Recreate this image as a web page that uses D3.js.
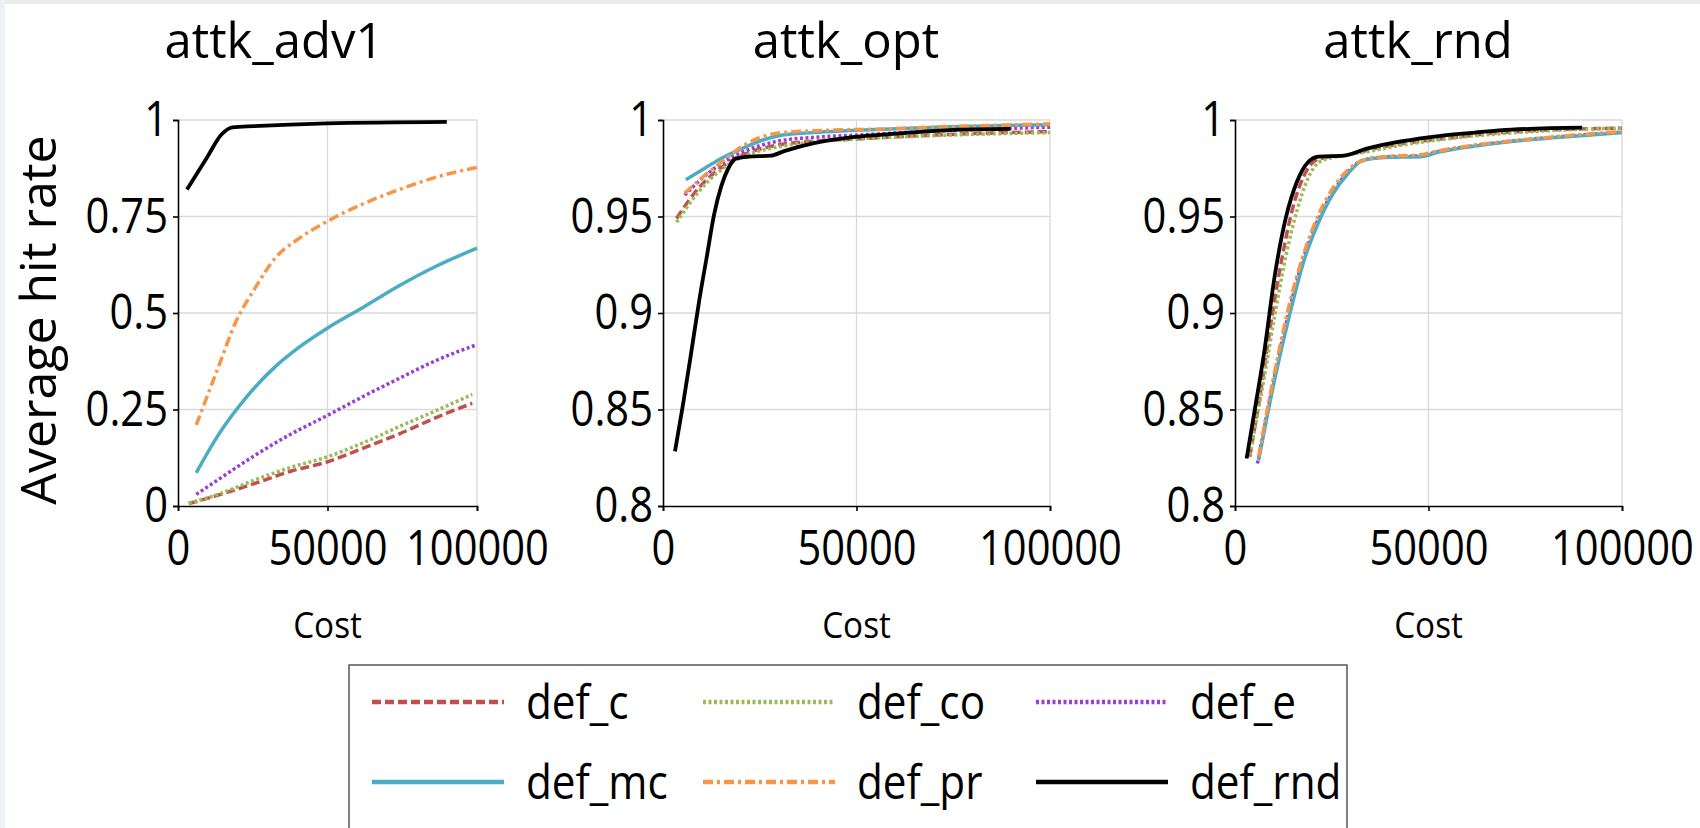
<!DOCTYPE html>
<html>
<head>
<meta charset="utf-8">
<script src="https://cdn.jsdelivr.net/npm/d3@7"></script>
<style>
  body { margin: 0; background: #fff; }
  text { font-family: "Open Sans", "Noto Sans", sans-serif; fill: #000; }
</style>
</head>
<body>
<div id="chart"></div>
<script>
// ticks
const costTicks = [0, 50000, 100000];
const adv1Ticks = [0, 0.25, 0.5, 0.75, 1];
const rateTicks = [0.8, 0.85, 0.9, 0.95, 1];

const panelTitles = ['attk_adv1', 'attk_opt', 'attk_rnd'];
const seriesNames = ['def_c', 'def_co', 'def_e', 'def_mc', 'def_pr', 'def_rnd'];

// attk_adv1  [cost, hit rate]
const adv1_c   = [[3600,0.006],[13400,0.028],[25500,0.058],[37700,0.09],[49800,0.114],[62000,0.15],[74100,0.187],[86300,0.229],[98400,0.266]];
const adv1_co  = [[3600,0.007],[13400,0.03],[25500,0.067],[37700,0.1],[49800,0.127],[62000,0.164],[74100,0.206],[86300,0.247],[98400,0.289]];
const adv1_e   = [[6100,0.03],[13400,0.068],[25500,0.13],[37700,0.186],[49800,0.234],[62000,0.284],[74100,0.331],[86300,0.377],[100000,0.418]];
const adv1_mc  = [[6100,0.086],[13400,0.183],[23100,0.284],[32800,0.363],[40100,0.409],[49800,0.46],[62000,0.515],[74100,0.571],[86300,0.621],[100000,0.668]];
const adv1_pr  = [[6100,0.21],[13400,0.358],[19400,0.478],[25500,0.561],[32800,0.645],[40100,0.691],[49800,0.737],[62000,0.783],[74100,0.82],[86300,0.852],[100000,0.877]];
const adv1_rnd = [[3000,0.82],[9700,0.903],[14600,0.963],[18200,0.981],[25500,0.984],[49800,0.991],[89900,0.995]];

// attk_opt
const opt_c   = [[3500,0.949],[8900,0.964],[15500,0.976],[20200,0.9815],[29600,0.987],[39000,0.989],[48400,0.990],[67300,0.992],[100000,0.994]];
const opt_co  = [[3500,0.947],[8900,0.962],[15500,0.975],[20200,0.9806],[29600,0.986],[39000,0.9886],[48400,0.99],[67300,0.9917],[100000,0.9935]];
const opt_e   = [[5600,0.961],[10800,0.971],[15500,0.978],[20200,0.983],[29600,0.989],[39000,0.991],[48400,0.992],[67300,0.994],[100000,0.9963]];
const opt_mc  = [[5900,0.969],[10800,0.975],[15500,0.9806],[20200,0.985],[24900,0.989],[29600,0.9917],[39000,0.9935],[48400,0.9945],[67300,0.996],[100000,0.9976]];
const opt_pr  = [[5600,0.962],[10800,0.9714],[15500,0.9788],[20200,0.986],[24900,0.9908],[29600,0.9932],[39000,0.9944],[57900,0.9954],[76700,0.9967],[100000,0.998]];
const opt_rnd = [[3100,0.8283],[5200,0.853],[7100,0.877],[9400,0.907],[11300,0.929],[13200,0.951],[15100,0.966],[16900,0.975],[18800,0.980],[22100,0.981],[27800,0.9815],[31500,0.984],[39000,0.988],[48400,0.991],[57900,0.9926],[67300,0.994],[76700,0.995],[89800,0.9954]];

// attk_rnd
const rnd_c   = [[3800,0.8255],[6600,0.859],[9400,0.896],[12200,0.929],[15000,0.955],[17800,0.971],[20700,0.979],[23500,0.9806],[29100,0.982],[38500,0.9862],[47900,0.989],[57300,0.9911],[66700,0.9932],[76100,0.9944],[100000,0.9958]];
const rnd_co  = [[3800,0.8264],[7500,0.866],[10300,0.899],[13100,0.929],[16000,0.953],[18800,0.9695],[21600,0.978],[25400,0.9806],[33800,0.9834],[43200,0.987],[57300,0.9908],[76100,0.9939],[100000,0.9958]];
const rnd_e   = [[5800,0.822],[10300,0.868],[14100,0.902],[17800,0.929],[21600,0.949],[25400,0.963],[29100,0.973],[32900,0.979],[38500,0.9808],[47900,0.9815],[52600,0.9837],[62000,0.9868],[76100,0.99],[90100,0.9923],[100000,0.9938]];
const rnd_mc  = [[6100,0.8236],[10300,0.866],[14100,0.899],[17800,0.927],[21600,0.947],[25400,0.962],[29100,0.972],[32900,0.979],[38500,0.9806],[47900,0.981],[52600,0.9834],[62000,0.9865],[76100,0.9898],[90100,0.992],[100000,0.9935]];
const rnd_pr  = [[6100,0.8255],[10300,0.87],[14100,0.905],[17800,0.931],[21600,0.951],[25400,0.965],[29100,0.974],[32900,0.979],[38500,0.981],[47900,0.982],[52600,0.984],[62000,0.987],[76100,0.990],[90100,0.9926],[100000,0.994]];
const rnd_rnd = [[3000,0.8246],[5200,0.851],[7500,0.879],[10300,0.9197],[13100,0.949],[16000,0.968],[18800,0.978],[21600,0.981],[28200,0.9815],[33800,0.985],[43200,0.989],[52600,0.9917],[62000,0.9935],[71400,0.995],[89700,0.996]];

// estilos de las series
const styles = {
  def_c:   { color: '#C0504D', dash: '9,4',       width: 3.5 },
  def_co:  { color: '#9BBB59', dash: '3,2.5',     width: 3.5 },
  def_e:   { color: '#9A3FD6', dash: '3,2.5',     width: 3.5 },
  def_mc:  { color: '#4BACC6', dash: null,        width: 3.5 },
  def_pr:  { color: '#F79646', dash: '10,4,3,4',  width: 3.5 },
  def_rnd: { color: '#000000', dash: null,        width: 3.8 }
};

const panels = [
  { title: panelTitles[0], left: 178, right: 477, titleX: 274, ticks: adv1Ticks,
    series: [adv1_c, adv1_co, adv1_e, adv1_mc, adv1_pr, adv1_rnd] },
  { title: panelTitles[1], left: 663, right: 1050, titleX: 846, ticks: rateTicks,
    series: [opt_c, opt_co, opt_e, opt_mc, opt_pr, opt_rnd] },
  { title: panelTitles[2], left: 1235, right: 1622, titleX: 1418, ticks: rateTicks,
    series: [rnd_c, rnd_co, rnd_e, rnd_mc, rnd_pr, rnd_rnd] }
];

const width = 1700, height = 828;
const plotTop = 120, plotBottom = 506;
const squeeze = 0.85; // el texto del original es mas estrecho

const svg = d3.select('#chart').append('svg')
  .attr('width', width)
  .attr('height', height)
  .style('display', 'block');

svg.append('rect').attr('width', width).attr('height', height).attr('fill', '#fff');
// franja gris del fondo de la diapositiva
svg.append('rect').attr('width', width).attr('height', 4).attr('fill', '#E9EBED');
svg.append('rect').attr('width', 5).attr('height', height).attr('fill', '#EEF2F5');

panels.forEach(p => {
  const x = d3.scaleLinear().domain([0, 100000]).range([p.left, p.right]);
  const y = d3.scaleLinear().domain([p.ticks[0], p.ticks[p.ticks.length - 1]]).range([plotBottom, plotTop]);

  const g = svg.append('g');

  // rejilla
  g.append('g').selectAll('line')
    .data(p.ticks.slice(1))
    .join('line')
    .attr('x1', p.left).attr('x2', p.right)
    .attr('y1', d => y(d)).attr('y2', d => y(d))
    .attr('stroke', '#D9D9D9').attr('stroke-width', 1.3);
  g.append('g').selectAll('line')
    .data(costTicks.slice(1))
    .join('line')
    .attr('x1', d => x(d)).attr('x2', d => x(d))
    .attr('y1', plotTop).attr('y2', plotBottom)
    .attr('stroke', '#D9D9D9').attr('stroke-width', 1.3);

  // ejes
  const yAxis = g.append('g')
    .attr('transform', `translate(${p.left},0)`)
    .call(d3.axisLeft(y).tickValues(p.ticks).tickSize(5).tickPadding(5).tickFormat(d => String(d)));
  const xAxis = g.append('g')
    .attr('transform', `translate(0,${plotBottom})`)
    .call(d3.axisBottom(x).tickValues(costTicks).tickSize(5).tickPadding(19).tickFormat(d => String(d)));

  [yAxis, xAxis].forEach(a => {
    a.select('.domain').attr('stroke', '#000').attr('stroke-width', 1.6);
    a.selectAll('.tick line').attr('stroke', '#000').attr('stroke-width', 1.6);
    a.selectAll('text').style('font-size', '49px').attr('fill', '#000')
      .style('font-family', '"Open Sans", sans-serif')
      .attr('transform', `scale(${squeeze},1)`);
  });
  yAxis.selectAll('text').attr('x', -10 / squeeze);

  // lineas
  const line = d3.line().x(d => x(d[0])).y(d => y(d[1])).curve(d3.curveMonotoneX);
  p.series.forEach((s, i) => {
    const st = styles[seriesNames[i]];
    g.append('path')
      .datum(s)
      .attr('d', line)
      .attr('fill', 'none')
      .attr('stroke', st.color)
      .attr('stroke-width', st.width)
      .attr('stroke-dasharray', st.dash)
      .attr('stroke-linejoin', 'round');
  });

  // titulo
  svg.append('text')
    .attr('x', p.titleX).attr('y', 58)
    .attr('text-anchor', 'middle')
    .style('font-size', '49px')
    .text(p.title);

  // titulo eje x
  svg.append('text')
    .attr('transform', `translate(${(p.left + p.right) / 2},638) scale(0.9,1)`)
    .attr('text-anchor', 'middle')
    .style('font-size', '37px')
    .text('Cost');
});

// titulo eje y
svg.append('text')
  .attr('transform', 'translate(56,320) rotate(-90)')
  .attr('text-anchor', 'middle')
  .style('font-size', '50px')
  .text('Average hit rate');

// leyenda
svg.append('rect')
  .attr('x', 349).attr('y', 665)
  .attr('width', 998).attr('height', 200)
  .attr('fill', '#fff')
  .attr('stroke', '#555').attr('stroke-width', 1.5);

const legendCols = [372, 703, 1036];
const legendRows = [702, 782];
seriesNames.forEach((name, i) => {
  const lx = legendCols[i % 3];
  const ly = legendRows[Math.floor(i / 3)];
  const st = styles[name];
  svg.append('line')
    .attr('x1', lx).attr('x2', lx + 132)
    .attr('y1', ly).attr('y2', ly)
    .attr('stroke', st.color)
    .attr('stroke-width', 4.5)
    .attr('stroke-dasharray', st.dash);
  svg.append('text')
    .attr('transform', `translate(${lx + 154},${ly + 17}) scale(0.9,1)`)
    .style('font-size', '47px')
    .text(name);
});
</script>
</body>
</html>
